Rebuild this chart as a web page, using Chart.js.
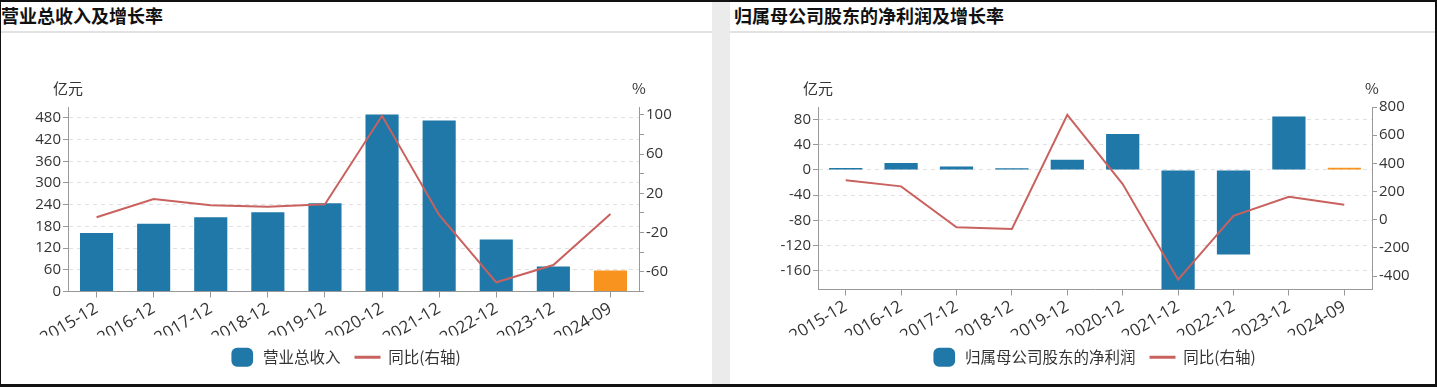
<!DOCTYPE html>
<html>
<head>
<meta charset="utf-8">
<script src="https://cdn.jsdelivr.net/npm/chart.js@4.4.1/dist/chart.umd.min.js"></script>
<style>
body { margin: 0; width: 1437px; height: 387px; overflow: hidden; background: #fff; font-family: "Noto Sans CJK SC", sans-serif; }
#frame { position: absolute; left: 0; top: 0; width: 1437px; height: 387px; box-sizing: border-box;
  border-top: 2px solid #111; border-left: 1px solid #111; border-right: 2px solid #111; border-bottom: 3px solid #111; pointer-events: none; }
.gap { position: absolute; left: 712px; top: 0; width: 18px; height: 387px; background: #ebebeb; }
.title { position: absolute; top: 3px; font-size: 18px; font-weight: bold; color: #111; line-height: 24px; }
.rule { position: absolute; top: 31px; height: 2px; background: #e2e2e2; }
.box { position: absolute; top: 34px; height: 349px; }
</style>
</head>
<body>
<div class="title" style="left:1px">营业总收入及增长率</div>
<div class="rule" style="left:0;width:712px"></div>
<div class="gap"></div>
<div class="title" style="left:734px">归属母公司股东的净利润及增长率</div>
<div class="rule" style="left:730px;width:707px"></div>
<div class="box" style="left:0;width:712px"><canvas id="revChart"></canvas></div>
<div class="box" style="left:730px;width:705px"><canvas id="profitChart"></canvas></div>
<div id="frame"></div>
<script>
const categories = ['2015-12', '2016-12', '2017-12', '2018-12', '2019-12', '2020-12', '2021-12', '2022-12', '2023-12', '2024-09'];

// 营业总收入 (亿元) and 同比 (%)
const revenue = [162, 187, 205, 219, 244, 489, 473, 144, 69, 58];
const revenueYoY = [-4.4, 14.3, 8, 6.4, 8.8, 99, -2, -70.6, -53, -1];

// 归属母公司股东的净利润 (亿元) and 同比 (%)
const netProfit = [3, 11, 5.5, 2.5, 16, 57, -215, -134.5, 85, 3.5];
const netProfitYoY = [281, 237, -54, -66, 745, 253, -425, 28, 163, 106];

// tick values and axis bounds
const revTicks = [0, 60, 120, 180, 240, 300, 360, 420, 480];
const revYoYTicks = [-80, -60, -40, -20, 0, 20, 40, 60, 80, 100];
const revYoYLabels = [100, 60, 20, -20, -60];
const profitTicks = [-160, -120, -80, -40, 0, 40, 80];
const profitYoYTicks = [-400, -200, 0, 200, 400, 600, 800];
const revRange = [0, 510];
const revYoYRange = [-80, 108];
const profitRange = [-190, 100];
const profitYoYRange = [-495, 800];

const BLUE = '#1f78a8';
const ORANGE = '#f7931e';
const RED = '#c9625f';
const AXIS = '#999';
const TXT = '#333';
const FONT = '"Open Sans", "Noto Sans CJK SC", sans-serif';

const unitPlugin = {
  id: 'units',
  afterDraw(chart) {
    const ctx = chart.ctx;
    ctx.save();
    ctx.font = '15px "Noto Sans CJK SC"';
    ctx.fillStyle = TXT;
    ctx.textAlign = 'center';
    ctx.textBaseline = 'middle';
    ctx.fillText('亿元', chart.scales.y.right, 54);
    ctx.fillText('%', chart.scales.y1.left, 54);
    ctx.restore();
  }
};

function buildChart(id, opt) {
  const barColors = opt.bars.map((v, i) => i === opt.bars.length - 1 ? ORANGE : BLUE);
  new Chart(document.getElementById(id), {
    type: 'bar',
    data: {
      labels: categories,
      datasets: [{
        type: 'bar',
        label: opt.barLabel,
        data: opt.bars,
        backgroundColor: barColors,
        borderWidth: 0,
        categoryPercentage: 1,
        barPercentage: opt.barPct,
        yAxisID: 'y',
        order: 1,
        clip: 0,
        pointStyle: 'rectRounded'
      }, {
        type: 'line',
        label: '同比(右轴)',
        data: opt.line,
        borderColor: RED,
        backgroundColor: RED,
        borderWidth: 2,
        pointRadius: 0,
        tension: 0,
        yAxisID: 'y1',
        order: 0,
        pointStyle: 'line'
      }]
    },
    options: {
      responsive: true,
      maintainAspectRatio: false,
      animation: false,
      layout: { padding: { top: 73, left: opt.padL, right: opt.padR, bottom: 8 } },
      plugins: {
        tooltip: { enabled: false },
        legend: {
          position: 'bottom',
          labels: {
            usePointStyle: true,
            pointStyleWidth: 26,
            padding: 14,
            color: TXT,
            font: { size: 15.5, family: '"Noto Sans CJK SC", sans-serif' },
            sort: (a, b) => a.datasetIndex - b.datasetIndex,
            generateLabels(chart) {
              const items = Chart.defaults.plugins.legend.labels.generateLabels(chart);
              items.forEach(it => {
                if (it.datasetIndex === 0) {
                  it.fillStyle = BLUE; it.strokeStyle = BLUE; it.lineWidth = 0; it.pointStyle = 'rectRounded';
                } else {
                  it.strokeStyle = RED; it.lineWidth = 3; it.pointStyle = 'line';
                }
              });
              return items;
            }
          }
        }
      },
      scales: {
        x: {
          afterFit(s) { s.height = opt.xH; },
          grid: { display: true, drawOnChartArea: false, offset: false, tickLength: 6, tickColor: AXIS },
          border: { color: AXIS, width: 1 },
          ticks: { autoSkip: false, minRotation: 31, maxRotation: 31, padding: 1, color: TXT, font: { size: 17, family: FONT } }
        },
        y: {
          position: 'left',
          min: opt.yRange[0], max: opt.yRange[1],
          afterFit(s) { s.width = opt.yW; },
          afterBuildTicks(s) { s.ticks = opt.yTicks.map(v => ({ value: v })); },
          grid: { color: '#e0e0e0', lineWidth: 1, tickLength: 5, tickColor: AXIS },
          border: { color: AXIS, width: 1, dash: [4, 4] },
          ticks: { autoSkip: false, padding: 2, color: TXT, font: { size: 15, family: FONT } }
        },
        y1: {
          position: 'right',
          min: opt.y1Range[0], max: opt.y1Range[1],
          afterFit(s) { s.width = opt.y1W; },
          afterBuildTicks(s) { s.ticks = opt.y1Ticks.map(v => ({ value: v })); },
          grid: { drawOnChartArea: false, tickLength: 5, tickColor: AXIS },
          border: { color: AXIS, width: 1 },
          ticks: {
            autoSkip: false, padding: 2, color: TXT, font: { size: 15, family: FONT },
            callback: v => (opt.y1Labels.includes(v) ? v : '')
          }
        }
      }
    },
    plugins: [unitPlugin]
  });
}

buildChart('revChart', {
  bars: revenue, line: revenueYoY, barLabel: '营业总收入', barPct: 0.58,
  yRange: revRange, yTicks: revTicks,
  y1Range: revYoYRange, y1Ticks: revYoYTicks, y1Labels: revYoYLabels,
  padL: 0, padR: 22, yW: 68, y1W: 51, xH: 44
});

buildChart('profitChart', {
  bars: netProfit, line: netProfitYoY, barLabel: '归属母公司股东的净利润', barPct: 0.6,
  yRange: profitRange, yTicks: profitTicks,
  y1Range: profitYoYRange, y1Ticks: profitYoYTicks, y1Labels: profitYoYTicks,
  padL: 22, padR: 0, yW: 66, y1W: 63, xH: 46
});
</script>
</body>
</html>
